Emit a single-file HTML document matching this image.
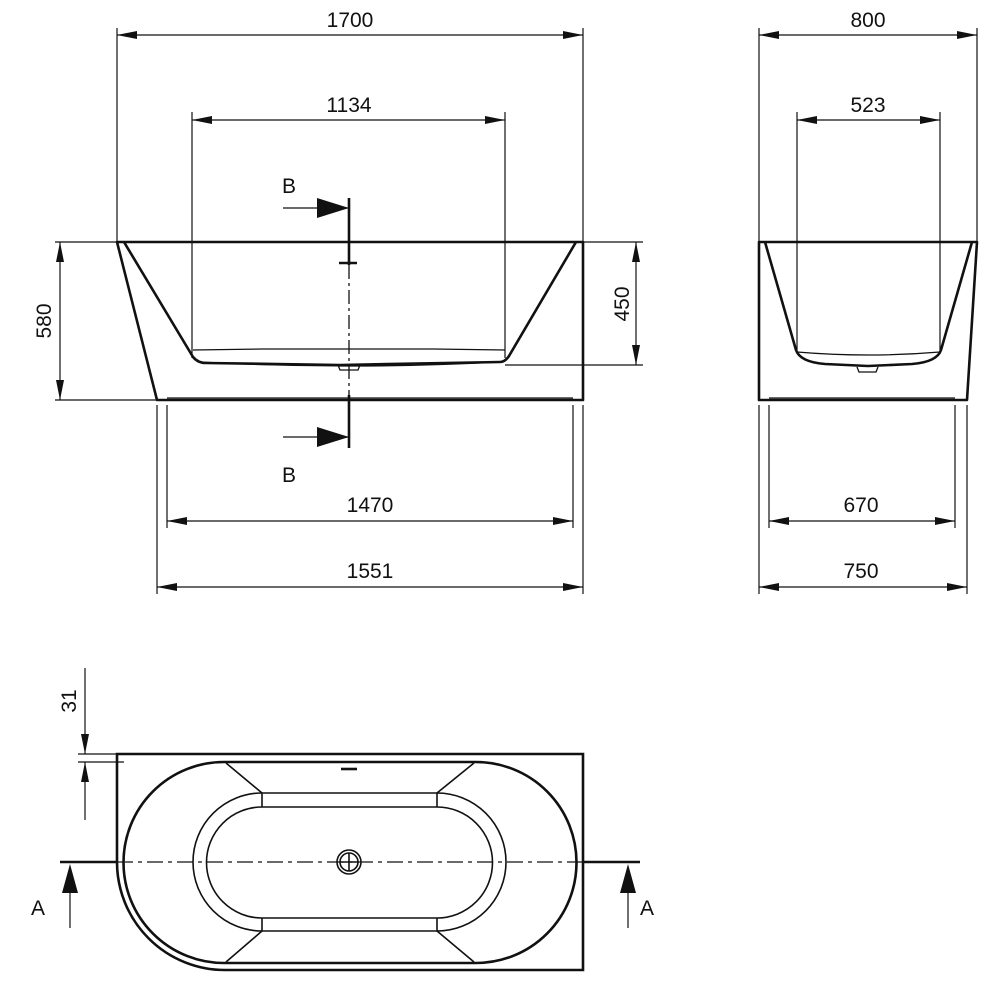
<!DOCTYPE html>
<html><head><style>html,body{margin:0;padding:0;background:#fff}svg{display:block}text{font-family:"Liberation Sans Narrow","Liberation Sans",sans-serif;font-size:21px;fill:#111}</style></head>
<body>
<svg width="1000" height="1000" viewBox="0 0 1000 1000" xmlns="http://www.w3.org/2000/svg">
<defs>
<marker id="a" viewBox="0 0 20 8" refX="20" refY="4" markerWidth="20" markerHeight="8" markerUnits="userSpaceOnUse" orient="auto-start-reverse"><path d="M0,0L20,4L0,8z" fill="#111"/></marker>
</defs>
<g stroke="#111" fill="none" stroke-width="1.2">
<path d="M117 28V242M583 28V242M192 112V358M505 112V358M55 242H117M55 400H157M583 242H643M505 365H643M157 405V594M583 405V594M167 405V528M573 405V528"/>
<path d="M117 35H583" marker-start="url(#a)" marker-end="url(#a)"/>
<path d="M192 120H505" marker-start="url(#a)" marker-end="url(#a)"/>
<path d="M60 242V400" marker-start="url(#a)" marker-end="url(#a)"/>
<path d="M636 242V365" marker-start="url(#a)" marker-end="url(#a)"/>
<path d="M167 521H573" marker-start="url(#a)" marker-end="url(#a)"/>
<path d="M157 587H583" marker-start="url(#a)" marker-end="url(#a)"/>
<path d="M759 28V242M977 28V242M797 112V350M940 112V350M759 405V594M967 405V594M769 405V528M955 405V528"/>
<path d="M759 35H977" marker-start="url(#a)" marker-end="url(#a)"/>
<path d="M797 120H940" marker-start="url(#a)" marker-end="url(#a)"/>
<path d="M769 521H955" marker-start="url(#a)" marker-end="url(#a)"/>
<path d="M759 587H967" marker-start="url(#a)" marker-end="url(#a)"/>
</g>
<g stroke="#111" fill="none" stroke-width="2.6" stroke-linejoin="round">
<path d="M117 242H583V400H157Z"/>
<path d="M124 242L193 357Q198 363 206 363L340 365L500 362Q505 362 509 356L576 242"/>
<path d="M349 198V265M349 395V448M339 263H357"/>
</g>
<g stroke="#111" fill="none" stroke-width="1.3">
<path d="M193 350L263 349H433L505 350M200 362Q349 370 500 362M338 365L340 370H358L360 365M167 398H573"/>
<path d="M349 265V395" stroke-dasharray="14 4 3 4"/>
<path d="M283 208H349M283 437H349"/>
</g>
<path d="M317 198L349 208L317 218Z M317 427L349 437L317 447Z" fill="#111"/>
<g text-anchor="middle">
<text x="289" y="193">B</text><text x="289" y="482">B</text>
<text x="350" y="27">1700</text>
<text x="349" y="112">1134</text>
<text x="370" y="512">1470</text>
<text x="370" y="578">1551</text>
<text x="868" y="27">800</text><text x="868" y="112">523</text><text x="861" y="512">670</text><text x="861" y="578">750</text>
<text transform="translate(51,321) rotate(-90)">580</text>
<text transform="translate(629,304) rotate(-90)">450</text>
<text transform="translate(76,701) rotate(-90)">31</text>
</g>
<g stroke="#111" fill="none" stroke-width="2.6" stroke-linejoin="round">
<path d="M759 242H977L967 400H759Z"/>
<path d="M765 242L796 350Q800 362 825 364L868 366L912 364Q937 362 941 350L972 242"/>
</g>
<g stroke="#111" fill="none" stroke-width="1.3">
<path d="M797 352Q868 358 940 352M769 398H955M857 367L859 372H876L878 367"/>
</g>
<g stroke="#111" fill="none" stroke-width="2.6">
<path d="M117 862V754H583V970H225A108 108 0 0 1 117 862"/>
<path d="M224 762H476A100 100 0 0 1 476 963H224A100 100 0 0 1 224 762Z"/>
<path d="M341 769H357"/>
</g>
<g stroke="#111" fill="none" stroke-width="1.6">
<path d="M262 793H437A69 69 0 0 1 437 931H262A69 69 0 0 1 262 793Z"/>
<path d="M262 807H437A55 55 0 0 1 437 918H262A55 55 0 0 1 262 807Z"/>
<path d="M262 793V807M437 793V807M262 918V931M437 918V931"/>
<path d="M226 763L262 793M474 763L437 793M226 962L262 931M474 962L437 931"/>
<circle cx="349" cy="862" r="12"/><circle cx="349" cy="862" r="9"/><path d="M340 862H358M349 853V871"/>
</g>
<g stroke="#111" fill="none" stroke-width="1.2">
<path d="M117 862H583" stroke-dasharray="16 5 4 5"/>
<path d="M78 754H117M78 762H124"/>
<path d="M85 668V754" marker-end="url(#a)"/>
<path d="M85 820V762" marker-end="url(#a)"/>
<path d="M70 928V890M628 928V890"/>
</g>
<path d="M62 893L70 864L78 893Z M620 893L628 864L636 893Z" fill="#111"/>
<path d="M60 862H117M583 862H640" stroke="#111" stroke-width="2.6"/>
<text x="31" y="915">A</text><text x="640" y="915">A</text>
</svg>
</body></html>
